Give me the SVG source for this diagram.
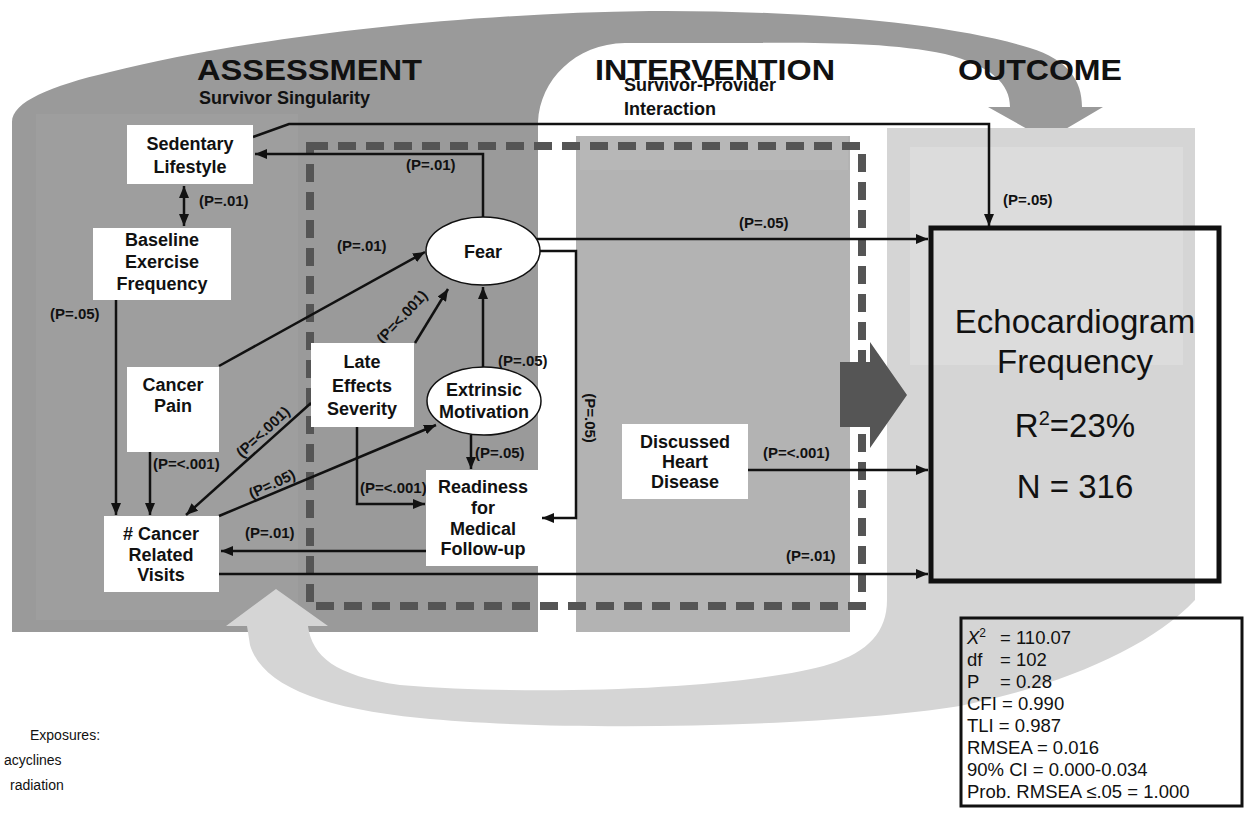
<svg xmlns="http://www.w3.org/2000/svg" width="1248" height="821" viewBox="0 0 1248 821">
<style>
.lbl{font-family:"Liberation Sans",Arial,sans-serif;font-weight:bold;font-size:18px;text-anchor:middle;fill:#111}
.p{font-family:"Liberation Sans",Arial,sans-serif;font-weight:bold;font-size:15px;fill:#111}
.title{font-family:"Liberation Sans",Arial,sans-serif;font-weight:bold;font-size:30px;fill:#111}
.sub{font-family:"Liberation Sans",Arial,sans-serif;font-weight:bold;font-size:18px;fill:#111}
.big{font-family:"Liberation Sans",Arial,sans-serif;font-size:33px;text-anchor:middle;fill:#111}
.st{font-family:"Liberation Sans",Arial,sans-serif;font-size:18.5px;fill:#111}
.ex{font-family:"Liberation Sans",Arial,sans-serif;font-size:14px;fill:#111}
.node rect,.node ellipse{fill:#fff}
.node ellipse{stroke:#111;stroke-width:1.5}
#connectors path{fill:none;stroke:#111;stroke-width:2.5}
</style>
<defs>
<marker id="ah" viewBox="0 0 12 10" refX="12" refY="5" markerWidth="12" markerHeight="10" markerUnits="userSpaceOnUse" orient="auto-start-reverse"><path d="M0,0 L12,5 L0,10 z" fill="#111"/></marker>
</defs>
<rect width="1248" height="821" fill="#fff"/>
<g id="background">
<path d="M12,632 L12,122 C12,102 50,86 110,72 C230,42 430,14 650,11 C820,10 960,26 1030,48 C1068,60 1082,80 1082,107 L1103,107 L1047,140 L988,107 L1010,107 C1010,84 992,66 945,54 C880,40 790,43 700,43 L625,43 C575,44 540,80 538,122 L538,632 Z" fill="#9a9a9a"/>
<rect x="36" y="114" width="262" height="506" fill="#9e9e9e"/>
<rect x="576" y="136" width="274" height="496" fill="#b3b3b3"/>
<rect x="580" y="136" width="268" height="34" fill="#b7b7b7"/>
<path d="M887,128 L1195,128 L1195,600 C1150,648 1060,686 960,706 C820,728 560,732 420,718 C320,708 262,685 250,645 L247,626 L226,626 L276,589 L328,626 L308,626 C312,656 335,676 400,685 C560,698 760,686 830,664 C868,652 887,632 887,600 Z" fill="#d5d5d5"/>
<rect x="910" y="147" width="273" height="218" fill="#dcdcdc"/>
<rect x="310" y="146" width="552" height="460" fill="none" stroke="#555" stroke-width="8" stroke-dasharray="18 10"/>
<polygon points="840,362 870,362 870,342 907,395 870,448 870,427 840,427" fill="#555"/>
</g>
<g id="titles">
<text class="title" x="197" y="80" textLength="225" lengthAdjust="spacingAndGlyphs">ASSESSMENT</text>
<text class="sub" x="199" y="104">Survivor Singularity</text>
<text class="title" x="595" y="80" textLength="240" lengthAdjust="spacingAndGlyphs">INTERVENTION</text>
<text class="sub" x="624" y="91">Survivor-Provider</text>
<text class="sub" x="624" y="115">Interaction</text>
<text class="title" x="958" y="80" textLength="164" lengthAdjust="spacingAndGlyphs">OUTCOME</text>
</g>
<g id="connectors">
<path d="M253,137 L289,124 L989,124 L989,226" marker-end="url(#ah)"/>
<path d="M483,217 L483,154 L255,154" marker-end="url(#ah)"/>
<path d="M184,186 L184,226" marker-start="url(#ah)" marker-end="url(#ah)"/>
<path d="M116,300 L116,515" marker-end="url(#ah)"/>
<path d="M150,452 L150,515" marker-end="url(#ah)"/>
<path d="M219,366 L425,252" marker-end="url(#ah)"/>
<path d="M415,343 L448,289" marker-end="url(#ah)"/>
<path d="M483,367 L483,287" marker-end="url(#ah)"/>
<path d="M311,403 L186,515" marker-end="url(#ah)"/>
<path d="M219,516 L436,425" marker-end="url(#ah)"/>
<path d="M357,427 L357,504 L425,504" marker-end="url(#ah)"/>
<path d="M471,435 L471,469" marker-end="url(#ah)"/>
<path d="M540,251 L576,251 L576,518 L542,518" marker-end="url(#ah)"/>
<path d="M537,239 L928,239" marker-end="url(#ah)"/>
<path d="M748,470 L928,470" marker-end="url(#ah)"/>
<path d="M426,551 L221,551" marker-end="url(#ah)"/>
<path d="M219,574 L928,574" marker-end="url(#ah)"/>
<text class="p" x="1003" y="205">(P=.05)</text>
<text class="p" x="406" y="170">(P=.01)</text>
<text class="p" x="199" y="206">(P=.01)</text>
<text class="p" x="50" y="319">(P=.05)</text>
<text class="p" x="153" y="469">(P=&lt;.001)</text>
<text class="p" x="337" y="251">(P=.01)</text>
<text class="p" transform="translate(402,317) rotate(-47)" x="0" y="5" text-anchor="middle">(P=&lt;.001)</text>
<text class="p" x="498" y="366">(P=.05)</text>
<text class="p" transform="translate(263,432) rotate(-43)" x="0" y="5" text-anchor="middle">(P=&lt;.001)</text>
<text class="p" transform="translate(272,484) rotate(-25)" x="0" y="5" text-anchor="middle">(P=.05)</text>
<text class="p" x="360" y="493">(P=&lt;.001)</text>
<text class="p" x="475" y="458">(P=.05)</text>
<text class="p" transform="translate(590,418) rotate(90)" x="0" y="5" text-anchor="middle">(P=.05)</text>
<text class="p" x="739" y="228">(P=.05)</text>
<text class="p" x="763" y="458">(P=&lt;.001)</text>
<text class="p" x="245" y="538">(P=.01)</text>
<text class="p" x="786" y="561">(P=.01)</text>
</g>
<g id="sedentary" class="node">
<rect x="127" y="125" width="126" height="59"/>
<text class="lbl" x="190" y="150">Sedentary</text>
<text class="lbl" x="190" y="173">Lifestyle</text>
</g>
<g id="baseline" class="node">
<rect x="93" y="228" width="138" height="72"/>
<text class="lbl" x="162" y="246">Baseline</text>
<text class="lbl" x="162" y="268">Exercise</text>
<text class="lbl" x="162" y="290">Frequency</text>
</g>
<g id="cancer-pain" class="node">
<rect x="127" y="367" width="92" height="85"/>
<text class="lbl" x="173" y="391">Cancer</text>
<text class="lbl" x="173" y="412">Pain</text>
</g>
<g id="late-effects" class="node">
<rect x="311" y="343" width="103" height="84"/>
<text class="lbl" x="362" y="368">Late</text>
<text class="lbl" x="362" y="392">Effects</text>
<text class="lbl" x="362" y="415">Severity</text>
</g>
<g id="cancer-visits" class="node">
<rect x="104" y="516" width="115" height="76"/>
<text class="lbl" x="161" y="540"># Cancer</text>
<text class="lbl" x="161" y="561">Related</text>
<text class="lbl" x="161" y="581">Visits</text>
</g>
<g id="readiness" class="node">
<rect x="426" y="470" width="114" height="96"/>
<text class="lbl" x="483" y="493">Readiness</text>
<text class="lbl" x="483" y="514">for</text>
<text class="lbl" x="483" y="535">Medical</text>
<text class="lbl" x="483" y="555">Follow-up</text>
</g>
<g id="discussed" class="node">
<rect x="622" y="424" width="126" height="75"/>
<text class="lbl" x="685" y="448">Discussed</text>
<text class="lbl" x="685" y="468">Heart</text>
<text class="lbl" x="685" y="488">Disease</text>
</g>
<g id="fear" class="node">
<ellipse cx="483" cy="251" rx="57" ry="34"/>
<text class="lbl" x="483" y="258">Fear</text>
</g>
<g id="extrinsic" class="node">
<ellipse cx="484" cy="401" rx="57" ry="34"/>
<text class="lbl" x="484" y="396">Extrinsic</text>
<text class="lbl" x="484" y="418">Motivation</text>
</g>
<g id="echo" class="node">
<rect x="931" y="228" width="288" height="353" style="fill:none" stroke="#111" stroke-width="5"/>
<text class="big" x="1075" y="333">Echocardiogram</text>
<text class="big" x="1075" y="373">Frequency</text>
<text class="big" x="1075" y="437">R<tspan font-size="20" dy="-12">2</tspan><tspan dy="12">=23%</tspan></text>
<text class="big" x="1075" y="498">N = 316</text>
</g>
<g id="stats">
<rect x="961" y="618" width="281" height="188" fill="none" stroke="#111" stroke-width="3"/>
<text class="st" x="967" y="644"><tspan font-style="italic">X</tspan><tspan font-size="12" dy="-7">2</tspan><tspan x="1000" dy="7">= 110.07</tspan></text>
<text class="st" x="967" y="666">df<tspan x="1000">= 102</tspan></text>
<text class="st" x="967" y="688">P<tspan x="1000">= 0.28</tspan></text>
<text class="st" x="967" y="710">CFI = 0.990</text>
<text class="st" x="967" y="732">TLI = 0.987</text>
<text class="st" x="967" y="754">RMSEA = 0.016</text>
<text class="st" x="967" y="776">90% CI = 0.000-0.034</text>
<text class="st" x="967" y="798">Prob. RMSEA ≤.05 = 1.000</text>
</g>
<g id="exposures">
<text class="ex" x="30" y="740">Exposures:</text>
<text class="ex" x="4" y="765">acyclines</text>
<text class="ex" x="10" y="790">radiation</text>
</g>
</svg>
